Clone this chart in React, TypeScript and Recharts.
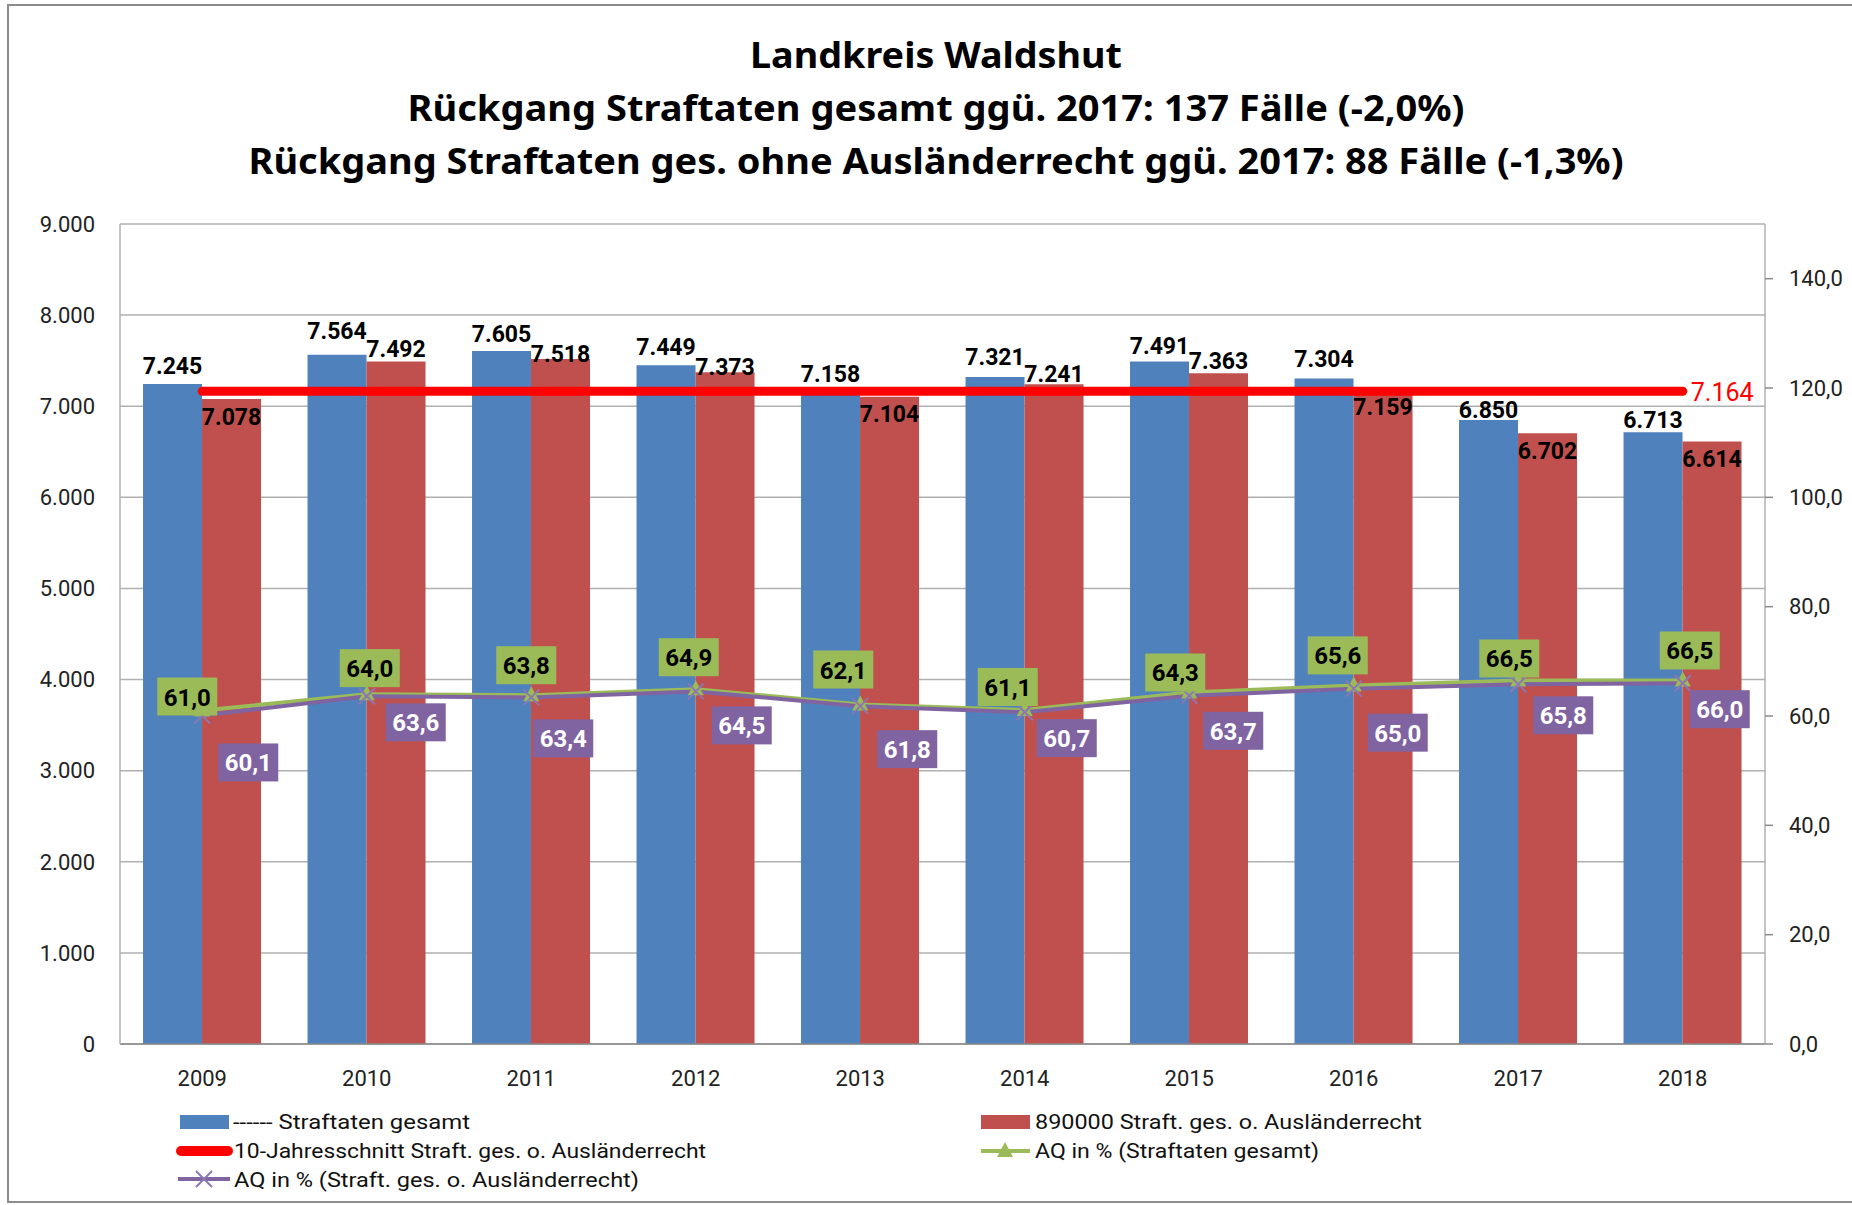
import React from 'react';
import { ComposedChart, Bar, Line, XAxis, YAxis, CartesianGrid, LabelList } from 'recharts';

document.body.style.margin = '0';

const years = ['2009', '2010', '2011', '2012', '2013', '2014', '2015', '2016', '2017', '2018'];
const straftatenGesamt = [7245, 7564, 7605, 7449, 7158, 7321, 7491, 7304, 6850, 6713];
const straftatenOhneAR = [7078, 7492, 7518, 7373, 7104, 7241, 7363, 7159, 6702, 6614];
const zehnJahresschnitt = 7164;
const aqGesamt = [61.0, 64.0, 63.8, 64.9, 62.1, 61.1, 64.3, 65.6, 66.5, 66.5];
const aqOhneAR = [60.1, 63.6, 63.4, 64.5, 61.8, 60.7, 63.7, 65.0, 65.8, 66.0];

const leftTicks = [0, 1000, 2000, 3000, 4000, 5000, 6000, 7000, 8000, 9000];
const rightTicks = [0, 20, 40, 60, 80, 100, 120, 140];

// label nudges (the labels were placed by hand in the original)
const blueLabelDy = [-17, -23, -17, -18, -17, -19, -15, -19, -9, -12];
const redLabelDy = [18, -12, -5, -5, 18, -10, -12, 16, 18, 18];
const greenBoxDx = [-15, 3, -5, -7, -17, -17, -14, -16, -9, 7];
const greenBoxDy = [-14, -26, -30, -32, -35, -23, -20, -30, -22, -30];
const purpleBoxDx = [46, 49, 32, 46, 47, 42, 44, 44, 45, 37];
const purpleBoxDy = [47, 26, 41, 34, 43, 26, 35, 44, 31, 26];

const data = years.map((year, i) => ({
  year,
  gesamt: straftatenGesamt[i],
  ohneAR: straftatenOhneAR[i],
  schnitt: zehnJahresschnitt,
  aqGesamt: aqGesamt[i],
  aqOhneAR: aqOhneAR[i],
}));

const BLUE = '#4F81BD';
const RED = '#C0504D';
const GREEN = '#9BBB59';
const PURPLE = '#8064A2';
const FONT = 'Roboto, "Noto Sans", sans-serif';

const fmtThousands = (v: number) => String(Math.round(v)).replace(/\B(?=(\d{3})+(?!\d))/g, '.');
const fmtPct = (v: number) => v.toFixed(1).replace('.', ',');

const barLabel = (offsets: number[]) => (props: any) => {
  const { x, y, width, value, index } = props;
  return (
    <text
      x={Number(x) + Number(width) / 2}
      y={Number(y) + offsets[index]}
      textAnchor="middle"
      dominantBaseline="central"
      fontFamily={FONT}
      fontWeight={700}
      fontSize={23}
      fill="#000"
    >
      {fmtThousands(Number(value))}
    </text>
  );
};

const boxLabel = (dxs: number[], dys: number[], fill: string, color: string) => (props: any) => {
  const { x, y, value, index } = props;
  const cx = Number(x) + dxs[index];
  const cy = Number(y) + dys[index];
  return (
    <g>
      <rect x={cx - 30} y={cy - 19} width={60} height={38} fill={fill} />
      <text
        x={cx}
        y={cy + 1}
        textAnchor="middle"
        dominantBaseline="central"
        fontFamily={FONT}
        fontWeight={700}
        fontSize={24}
        fill={color}
      >
        {fmtPct(Number(value))}
      </text>
    </g>
  );
};

const schnittLabel = (props: any) => {
  const { x, y, value, index } = props;
  if (index !== years.length - 1) return null;
  return (
    <text
      x={Number(x) + 8}
      y={Number(y) + 1}
      dominantBaseline="central"
      fontFamily={FONT}
      fontSize={25}
      fill="#FF0000"
    >
      {fmtThousands(Number(value))}
    </text>
  );
};

const TriangleDot = (props: any) => {
  const { cx, cy } = props;
  if (cx == null || cy == null) return null;
  return <path d={`M${cx},${cy - 9} L${cx + 8},${cy + 6} L${cx - 8},${cy + 6} Z`} fill={GREEN} />;
};

const CrossDot = (props: any) => {
  const { cx, cy } = props;
  if (cx == null || cy == null) return null;
  return (
    <g stroke="#8C76B4" strokeWidth={2}>
      <line x1={cx - 8} y1={cy - 8} x2={cx + 8} y2={cy + 8} />
      <line x1={cx + 8} y1={cy - 8} x2={cx - 8} y2={cy + 8} />
    </g>
  );
};

function Overlay() {
  const titleProps = {
    textAnchor: 'middle' as const,
    fontFamily: '"Noto Sans", sans-serif',
    fontWeight: 700,
    fontSize: 36,
    fill: '#000',
    lengthAdjust: 'spacingAndGlyphs' as const,
  };
  const legendText = {
    fontFamily: FONT,
    fontSize: 21,
    fill: '#111',
    lengthAdjust: 'spacingAndGlyphs' as const,
  };
  return (
    <svg
      width={1852}
      height={1205}
      style={{ position: 'absolute', left: 0, top: 0, pointerEvents: 'none' }}
    >
      <rect x={8} y={5} width={1900} height={1197} fill="none" stroke="#8C8C8C" strokeWidth={2} />
      <text x={936} y={68} textLength={372} {...titleProps}>Landkreis Waldshut</text>
      <text x={936} y={121} textLength={1057} {...titleProps}>
        Rückgang Straftaten gesamt ggü. 2017: 137 Fälle (-2,0%)
      </text>
      <text x={936} y={174} textLength={1375} {...titleProps}>
        Rückgang Straftaten ges. ohne Ausländerrecht ggü. 2017: 88 Fälle (-1,3%)
      </text>

      {/* legend */}
      <rect x={180} y={1115} width={49} height={14} fill={BLUE} />
      <text x={233} y={1129} textLength={237} {...legendText}>------ Straftaten gesamt</text>
      <rect x={981} y={1115} width={49} height={14} fill={RED} />
      <text x={1035} y={1129} textLength={387} {...legendText}>890000 Straft. ges.  o. Ausländerrecht</text>

      <line x1={181} y1={1151} x2={228} y2={1151} stroke="#FF0000" strokeWidth={10} strokeLinecap="round" />
      <text x={234} y={1158} textLength={472} {...legendText}>10-Jahresschnitt Straft. ges. o. Ausländerrecht</text>
      <line x1={981} y1={1151} x2={1030} y2={1151} stroke={GREEN} strokeWidth={4} />
      <TriangleDot cx={1005} cy={1151} />
      <text x={1035} y={1158} textLength={284} {...legendText}>AQ in % (Straftaten gesamt)</text>

      <line x1={178} y1={1179} x2={230} y2={1179} stroke={PURPLE} strokeWidth={4} />
      <CrossDot cx={204} cy={1179} />
      <text x={234} y={1187} textLength={405} {...legendText}>AQ in % (Straft. ges.  o. Ausländerrecht)</text>
    </svg>
  );
}

export default function App() {
  return (
    <div style={{ position: 'absolute', left: 0, top: 0, width: 1852, height: 1205, background: '#fff', overflow: 'hidden' }}>
      <ComposedChart
        width={1852}
        height={1205}
        data={data}
        margin={{ top: 224, right: 0, bottom: 121, left: 0 }}
        barCategoryGap="14%"
        barGap={0}
      >
        <CartesianGrid yAxisId="left" vertical={false} stroke="#B0B0B0" strokeWidth={1.5} />
        <XAxis
          dataKey="year"
          height={40}
          tickLine={false}
          tickSize={0}
          tickMargin={26}
          axisLine={{ stroke: '#8A8A8A', strokeWidth: 1.5 }}
          tick={{ fill: '#222', fontSize: 22, fontFamily: FONT }}
        />
        <YAxis
          yAxisId="left"
          orientation="left"
          width={120}
          domain={[0, 9000]}
          ticks={leftTicks}
          interval={0}
          tickLine={false}
          tickSize={0}
          tickMargin={25}
          axisLine={{ stroke: '#B0B0B0', strokeWidth: 1.5 }}
          tick={{ fill: '#222', fontSize: 22, fontFamily: FONT }}
          tickFormatter={fmtThousands}
        />
        <YAxis
          yAxisId="right"
          orientation="right"
          width={87}
          domain={[0, 150]}
          ticks={rightTicks}
          interval={0}
          tickSize={8}
          tickMargin={16}
          tickLine={{ stroke: '#8A8A8A', strokeWidth: 1.5 }}
          axisLine={{ stroke: '#B0B0B0', strokeWidth: 1.5 }}
          tick={{ fill: '#222', fontSize: 22, fontFamily: FONT }}
          tickFormatter={fmtPct}
        />
        <Bar yAxisId="left" dataKey="gesamt" fill={BLUE} isAnimationActive={false}>
          <LabelList dataKey="gesamt" content={barLabel(blueLabelDy)} />
        </Bar>
        <Bar yAxisId="left" dataKey="ohneAR" fill={RED} isAnimationActive={false}>
          <LabelList dataKey="ohneAR" content={barLabel(redLabelDy)} />
        </Bar>
        <Line
          yAxisId="left"
          dataKey="schnitt"
          stroke="#FF0000"
          strokeWidth={9}
          strokeLinecap="round"
          dot={false}
          activeDot={false}
          isAnimationActive={false}
        >
          <LabelList dataKey="schnitt" content={schnittLabel} />
        </Line>
        <Line
          yAxisId="right"
          dataKey="aqGesamt"
          stroke={GREEN}
          strokeWidth={4}
          dot={(p: any) => <TriangleDot key={`t${p.index}`} {...p} />}
          activeDot={false}
          isAnimationActive={false}
        >
          <LabelList dataKey="aqGesamt" content={boxLabel(greenBoxDx, greenBoxDy, GREEN, '#000')} />
        </Line>
        <Line
          yAxisId="right"
          dataKey="aqOhneAR"
          stroke={PURPLE}
          strokeWidth={4}
          dot={(p: any) => <CrossDot key={`x${p.index}`} {...p} />}
          activeDot={false}
          isAnimationActive={false}
        >
          <LabelList dataKey="aqOhneAR" content={boxLabel(purpleBoxDx, purpleBoxDy, PURPLE, '#fff')} />
        </Line>
      </ComposedChart>
      <Overlay />
    </div>
  );
}
